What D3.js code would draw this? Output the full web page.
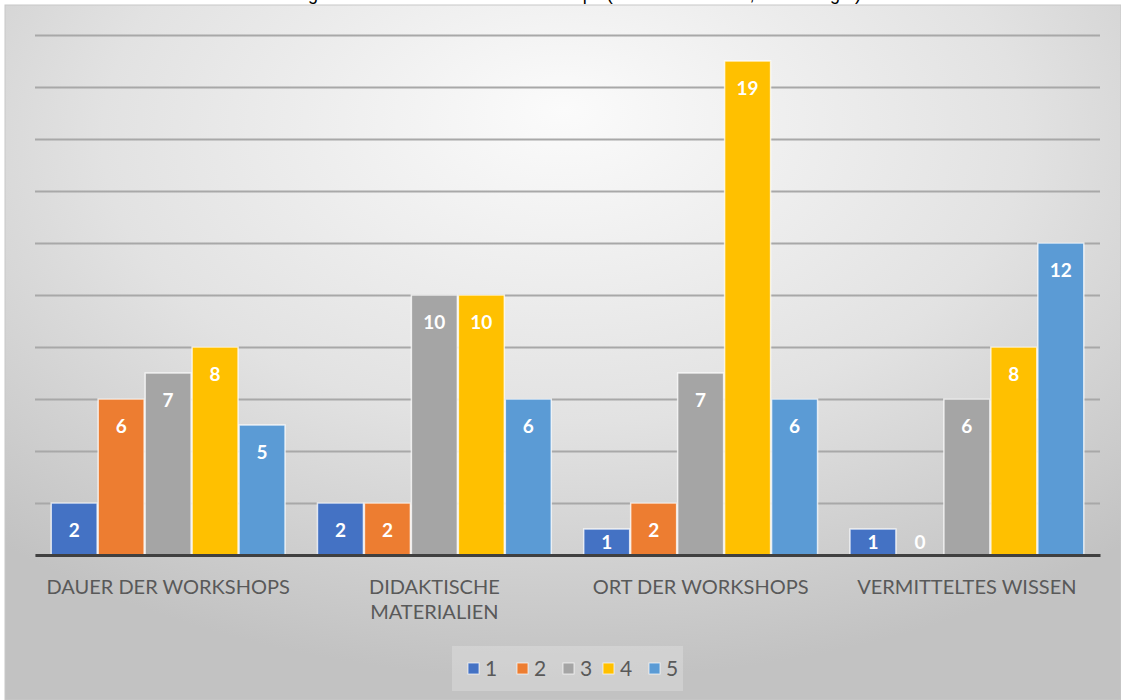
<!DOCTYPE html>
<html><head><meta charset="utf-8">
<script src="https://cdn.jsdelivr.net/npm/d3@7"></script>
<style>html,body{margin:0;padding:0;background:#fff;}svg{display:block;}</style>
</head><body>
<svg id="chart" width="1121" height="700"></svg>
<script>
const categories = [["DAUER DER WORKSHOPS"], ["DIDAKTISCHE", "MATERIALIEN"], ["ORT DER WORKSHOPS"], ["VERMITTELTES WISSEN"]];
const seriesNames = ["1", "2", "3", "4", "5"];
const s1 = [2, 2, 1, 1];
const s2 = [6, 2, 2, 0];
const s3 = [7, 10, 7, 6];
const s4 = [8, 10, 19, 8];
const s5 = [5, 6, 6, 12];
const seriesValues = [s1, s2, s3, s4, s5];
const colors = ["#4472C4", "#ED7D31", "#A5A5A5", "#FFC000", "#5B9BD5"];
const yTicks = [0, 2, 4, 6, 8, 10, 12, 14, 16, 18, 20];
const titleText = "Umfrage: Zufriedenheit mit den Workshops (1 = sehr schlecht, 5 = sehr gut)";

const svg = d3.select("#chart");
const defs = svg.append("defs");
const rg = defs.append("radialGradient").attr("id", "bg")
  .attr("cx", "50%").attr("cy", "22%").attr("r", "75%").attr("fx", "50%").attr("fy", "15%");
rg.append("stop").attr("offset", "0%").attr("stop-color", "#fbfbfb");
rg.append("stop").attr("offset", "55%").attr("stop-color", "#e2e2e2");
rg.append("stop").attr("offset", "100%").attr("stop-color", "#c2c2c2");

// cut-off title (only descenders are visible, as in the reference)
svg.append("text").attr("x", 560).attr("y", 0).attr("text-anchor", "middle")
  .attr("font-family", "Liberation Sans, Arial, sans-serif").attr("font-size", 18).attr("fill", "#000")
  .text(titleText);

svg.append("rect").attr("x", 5).attr("y", 5).attr("width", 1116).attr("height", 695)
  .attr("fill", "url(#bg)").attr("stroke", "#c8c8c8").attr("stroke-width", 1);

const x0 = d3.scaleBand().domain(d3.range(categories.length)).range([35, 1100])
  .paddingInner(0.118).paddingOuter(0.059);
const x1 = d3.scaleBand().domain(d3.range(seriesNames.length)).range([0, x0.bandwidth()]).padding(0.0);
const y = d3.scaleLinear().domain([0, 20]).range([555, 35]);

// gridlines
const yAxis = d3.axisLeft(y).tickValues(yTicks).tickSize(-(1100 - 35)).tickFormat("");
const gy = svg.append("g").attr("transform", "translate(35,0)").call(yAxis);
gy.select(".domain").remove();
gy.selectAll(".tick line").attr("stroke", "#a8a8a8").attr("stroke-width", 2);

// bars
const groups = svg.append("g").selectAll("g").data(categories).join("g")
  .attr("transform", (d, i) => `translate(${x0(i)},0)`);
groups.each(function(cat, ci) {
  const g = d3.select(this);
  seriesValues.forEach((vals, si) => {
    const v = vals[ci];
    const bx = x1(si), bw = x1.bandwidth();
    if (v > 0) {
      g.append("rect").attr("x", bx + 0.5).attr("y", y(v)).attr("width", bw - 1).attr("height", y(0) - y(v))
        .attr("fill", colors[si]).attr("stroke", "rgba(255,255,255,0.75)").attr("stroke-width", 1.5);
    }
    const ly = Math.min(y(v) + 27, y(0) - 13);
    g.append("text").attr("x", bx + bw / 2).attr("y", ly).attr("dy", "0.36em")
      .attr("text-anchor", "middle").attr("font-family", "Lato, sans-serif").attr("font-weight", "bold")
      .attr("font-size", 19).attr("fill", "#fff").text(v);
  });
});

// baseline axis
const xAxis = d3.axisBottom(x0).tickSize(0).tickFormat("");
const gx = svg.append("g").attr("transform", `translate(0,${y(0)})`).call(xAxis);
gx.select(".domain").attr("stroke", "#404040").attr("stroke-width", 3);

// category labels
categories.forEach((lines, ci) => {
  const t = svg.append("text").attr("text-anchor", "middle").attr("font-family", "Lato, sans-serif")
    .attr("font-size", 20).attr("fill", "#595959");
  lines.forEach((ln, li) => {
    t.append("tspan").attr("x", x0(ci) + x0.bandwidth() / 2).attr("y", 594 + li * 25).text(ln);
  });
});

// legend
svg.append("rect").attr("x", 452).attr("y", 646).attr("width", 231).attr("height", 45)
  .attr("fill", "rgba(255,255,255,0.22)");
const legX = [468, 517, 563, 603, 649];
seriesNames.forEach((n, i) => {
  svg.append("rect").attr("x", legX[i]).attr("y", 663).attr("width", 11).attr("height", 11)
    .attr("fill", colors[i]).attr("stroke", "rgba(255,255,255,0.7)").attr("stroke-width", 1);
  svg.append("text").attr("x", legX[i] + 17).attr("y", 676).attr("font-family", "Lato, sans-serif")
    .attr("font-size", 21).attr("fill", "#595959").text(n);
});
</script>
</body></html>
